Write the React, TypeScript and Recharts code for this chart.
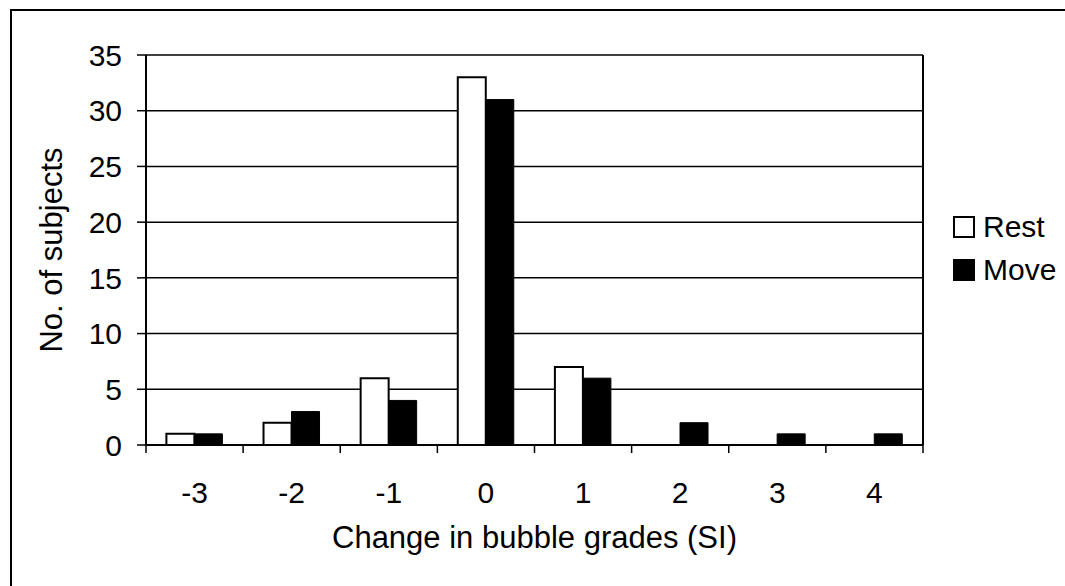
import React from 'react';
import {
  BarChart,
  Bar,
  XAxis,
  YAxis,
  CartesianGrid,
  Legend,
  Label,
} from 'recharts';

const categories = ['-3', '-2', '-1', '0', '1', '2', '3', '4'];
const restValues = [1, 2, 6, 33, 7, 0, 0, 0];
const moveValues = [1, 3, 4, 31, 6, 2, 1, 1];
const seriesNames = ['Rest', 'Move'];
const yTicks = [0, 5, 10, 15, 20, 25, 30, 35];

const data = categories.map((c, i) => ({
  grade: c,
  Rest: restValues[i],
  Move: moveValues[i],
}));

const FONT = '"Liberation Sans", Arial, Helvetica, sans-serif';
const X_TICK_SIZE = 8;
const X_TICK_MARGIN = 29;

const CategoryTick = (props: any) => {
  const { x, y, payload, index } = props;
  const count = Number(props.visibleTicksCount) || categories.length;
  let bw = 0;
  if (Number(props.width) > 0) bw = Number(props.width) / count;
  else if (payload && Number(payload.offset) > 0) bw = Number(payload.offset) * 2;
  const axisY = Number(y) - X_TICK_SIZE - X_TICK_MARGIN;
  const left = Number(x) - bw / 2;
  const right = Number(x) + bw / 2;
  return (
    <g>
      <line x1={left} x2={left} y1={axisY} y2={axisY + 8} stroke="#000" strokeWidth={1.5} />
      {index === count - 1 && (
        <line x1={right} x2={right} y1={axisY} y2={axisY + 8} stroke="#000" strokeWidth={1.5} />
      )}
      <text
        x={x}
        y={y}
        dy="0.71em"
        textAnchor="middle"
        fill="#000"
        fontSize={30}
        fontFamily={FONT}
      >
        {payload.value}
      </text>
    </g>
  );
};

const LegendContent = (props: any) => {
  const payload = [...(props.payload || [])].sort(
    (a: any, b: any) => seriesNames.indexOf(a.value) - seriesNames.indexOf(b.value)
  );
  return (
    <div style={{ fontFamily: FONT, fontSize: 30, color: '#000' }}>
      {payload.map((p: any) => (
        <div
          key={p.value}
          style={{ display: 'flex', alignItems: 'center', height: 43 }}
        >
          <span
            style={{
              display: 'inline-block',
              width: 18,
              height: 18,
              border: '2px solid #000',
              background: p.value === 'Rest' ? '#fff' : '#000',
              marginRight: 8,
            }}
          />
          <span>{p.value}</span>
        </div>
      ))}
    </div>
  );
};

export default function App() {
  return (
    <div
      style={{
        position: 'absolute',
        left: 0,
        top: 0,
        width: 1065,
        height: 586,
        overflow: 'hidden',
        background: '#fff',
      }}
    >
      <div
        style={{
          position: 'absolute',
          left: 10,
          top: 9,
          width: 1200,
          height: 700,
          borderTop: '2px solid #000',
          borderLeft: '2px solid #000',
        }}
      />
      <div style={{ position: 'absolute', left: 0, top: 0 }}>
        <BarChart
          width={1065}
          height={586}
          data={data}
          margin={{ top: 55, right: 141, bottom: 0, left: 0 }}
          barCategoryGap="21%"
          barGap={0}
          style={{ fontFamily: FONT }}
        >
          <CartesianGrid
            vertical={false}
            stroke="#000"
            strokeWidth={1.5}
            strokeDasharray=""
          />
          <XAxis
            dataKey="grade"
            tickLine={false}
            axisLine={{ stroke: '#000', strokeWidth: 2 }}
            tickSize={X_TICK_SIZE}
            tickMargin={X_TICK_MARGIN}
            tick={(p: any) => <CategoryTick {...p} />}
            height={141}
            interval={0}
          >
            <Label
              content={(props: any) => {
                const vb = props.viewBox;
                return (
                  <text
                    x={vb.x + vb.width / 2}
                    y={548}
                    textAnchor="middle"
                    fill="#000"
                    fontSize={31}
                    fontFamily={FONT}
                  >
                    Change in bubble grades (SI)
                  </text>
                );
              }}
            />
          </XAxis>
          <YAxis
            domain={[0, 35]}
            ticks={yTicks}
            interval={0}
            width={146}
            tickSize={9}
            tickMargin={15}
            tickLine={{ stroke: '#000', strokeWidth: 1.5 }}
            axisLine={{ stroke: '#000', strokeWidth: 2 }}
            tick={{ fill: '#000', fontSize: 30, fontFamily: FONT }}
          >
            <Label
              content={(props: any) => {
                const vb = props.viewBox;
                const cy = vb.y + vb.height / 2;
                return (
                  <text
                    x={62}
                    y={cy}
                    transform={`rotate(-90, 62, ${cy})`}
                    textAnchor="middle"
                    fill="#000"
                    fontSize={31}
                    fontFamily={FONT}
                  >
                    No. of subjects
                  </text>
                );
              }}
            />
          </YAxis>
          <YAxis
            yAxisId="right"
            orientation="right"
            domain={[0, 35]}
            width={1}
            tick={false}
            tickLine={false}
            axisLine={{ stroke: '#000', strokeWidth: 2 }}
          />
          <Legend
            layout="vertical"
            verticalAlign="middle"
            align="center"
            content={<LegendContent />}
            wrapperStyle={{ position: 'absolute', left: 953, top: 205, width: 110 }}
          />
          <Bar
            dataKey="Rest"
            fill="#fff"
            stroke="#000"
            strokeWidth={2}
            isAnimationActive={false}
          />
          <Bar
            dataKey="Move"
            fill="#000"
            stroke="#000"
            strokeWidth={1}
            isAnimationActive={false}
          />
        </BarChart>
      </div>
    </div>
  );
}
